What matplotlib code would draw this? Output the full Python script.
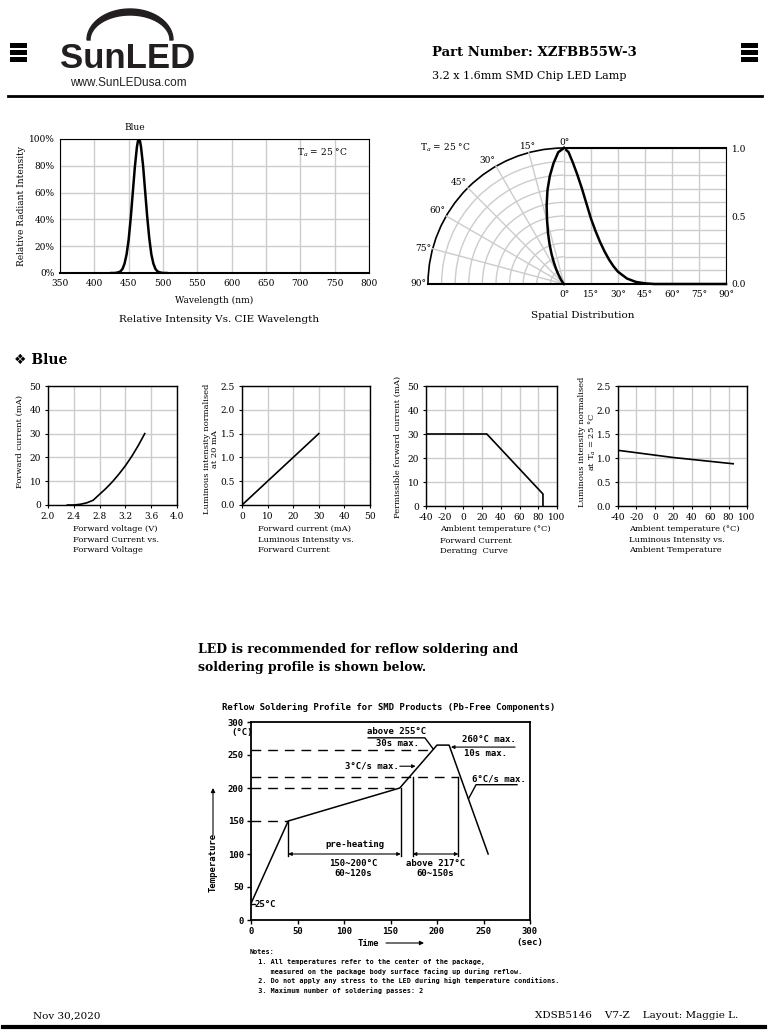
import numpy as np
import matplotlib
matplotlib.use("Agg")
import matplotlib.pyplot as plt
from matplotlib.patches import Polygon, Rectangle, Arc

plt.rcParams['font.family'] = ['DejaVu Serif', 'DejaVu Sans']
plt.rcParams['mathtext.fontset'] = 'dejavuserif'
plt.rcParams['axes.unicode_minus'] = False

# ---- data ----
wavelength = [425, 430, 435, 438, 441, 444, 447, 450, 453, 456, 459, 462, 463.5, 465,
              466.5, 468, 471, 474, 477, 480, 483, 486, 489, 492, 495, 500, 505]
rel_intensity = [0, 0, 0.005, 0.012, 0.03, 0.07, 0.14, 0.25, 0.41, 0.6, 0.79, 0.94, 0.985, 1.0,
                 0.985, 0.94, 0.8, 0.61, 0.42, 0.26, 0.14, 0.07, 0.03, 0.012, 0.005, 0, 0]

beam_angle = [0, 2.5, 5, 7.5, 10, 12.5, 15, 17.5, 20, 22.5, 25, 27.5, 30, 35, 40, 45, 50, 60, 75, 90]
beam_value = [1.0, 0.97, 0.89, 0.80, 0.70, 0.59, 0.48, 0.39, 0.31, 0.24, 0.18, 0.13, 0.09,
              0.04, 0.015, 0.005, 0, 0, 0, 0]

vf_volt = [2.3, 2.4, 2.5, 2.6, 2.7, 2.8, 2.9, 3.0, 3.1, 3.2, 3.3, 3.4, 3.5]
vf_current = [0, 0, 0.3, 0.9, 2.0, 4.5, 7.0, 9.8, 13.0, 16.5, 20.5, 25.0, 30.0]

iv_current = [0, 10, 20, 30]
iv_rel = [0, 0.5, 1.0, 1.5]

derate_temp = [-40, 25, 85, 85]
derate_current = [30, 30, 5, 0]

ta_temp = [-40, -20, 0, 20, 40, 60, 85]
ta_rel = [1.16, 1.11, 1.06, 1.01, 0.97, 0.93, 0.88]

reflow_time = [0, 40, 160, 200, 213, 255]
reflow_temp = [25, 150, 200, 265, 265, 100]

W, H = 768, 1033
fig = plt.figure(figsize=(W / 100, H / 100), dpi=100)


def box(l, t, r, b):
    return fig.add_axes([l / W, 1 - b / H, (r - l) / W, (b - t) / H])


page = box(0, 0, W, H)
page.set_xlim(0, W)
page.set_ylim(H, 0)
page.axis('off')

# ---- header ----
for y in (43, 50, 57):
    page.add_patch(Rectangle((10, y), 17, 4.5, color='black', lw=0))
    page.add_patch(Rectangle((741, y), 17, 4.5, color='black', lw=0))
t = np.linspace(0, np.pi, 60)
outer = np.c_[130 - 43 * np.cos(t), 40 - 31 * np.sin(t)]
inner = np.c_[130 - 40 * np.cos(t), 40 - 25 * np.sin(t)][::-1]
page.add_patch(Polygon(np.r_[outer, inner], color='#231f20'))
page.text(128, 58, 'SunLED', ha='center', va='center', fontsize=25, fontweight='bold',
          family=['Liberation Sans', 'DejaVu Sans'], color='#231f20')
page.text(128, 83, 'www.SunLEDusa.com', ha='center', va='center', fontsize=8.5,
          family=['Liberation Sans', 'DejaVu Sans'], color='#231f20')
page.text(432, 53, 'Part Number: XZFBB55W-3', ha='left', va='center', fontsize=9.5, fontweight='bold')
page.text(432, 76, '3.2 x 1.6mm SMD Chip LED Lamp', ha='left', va='center', fontsize=8)
page.plot([8, 762], [96, 96], color='black', lw=2)

# ---- spectrum ----
grid_c = '#cccccc'
ax = box(60, 139, 369, 273)
ax.plot(wavelength, rel_intensity, color='black', lw=1.8)
ax.set_xlim(350, 800)
ax.set_ylim(0, 1)
ax.set_xticks(range(350, 801, 50))
ax.set_yticks([0, 0.2, 0.4, 0.6, 0.8, 1.0])
ax.set_yticklabels(['0%', '20%', '40%', '60%', '80%', '100%'])
ax.grid(color=grid_c, lw=1)
ax.tick_params(length=0, labelsize=6.5, pad=4)
ax.spines['bottom'].set_linewidth(1.5)
ax.text(0.93, 0.9, 'T$_a$ = 25 °C', transform=ax.transAxes, ha='right', va='center', fontsize=6.5)
page.text(135, 128, 'Blue', ha='center', va='center', fontsize=6.5)
page.text(22, 206, 'Relative Radiant Intensity', rotation=90, ha='center', va='center', fontsize=6.5)
page.text(214, 300, 'Wavelength (nm)', ha='center', va='center', fontsize=6.5)
page.text(219, 319, 'Relative Intensity Vs. CIE Wavelength', ha='center', va='center', fontsize=7.5)

# ---- spatial distribution: rectangular half ----
ar = box(564, 148, 726, 284)
ar.plot(beam_angle, beam_value, color='black', lw=1.8, clip_on=False)
ar.set_xlim(0, 90)
ar.set_ylim(0, 1)
ar.set_xticks(range(0, 91, 15))
ar.set_xticklabels([f'{a}°' for a in range(0, 91, 15)])
ar.set_yticks([0, 0.5, 1.0])
ar.set_yticks(np.arange(0, 1.01, 0.1), minor=True)
ar.yaxis.tick_right()
ar.yaxis.set_major_formatter(matplotlib.ticker.FormatStrFormatter('%.1f'))
ar.grid(which='both', color=grid_c, lw=1)
ar.tick_params(which='both', length=0, labelsize=6.5, pad=4)
ar.spines['left'].set_color(grid_c)
ar.spines['bottom'].set_linewidth(1.5)
ar.spines['top'].set_linewidth(1.5)

# ---- spatial distribution: polar half ----
R = 136.0
ap = box(415, 140, 566, 290)
ap.set_xlim((415 - 564) / R, (566 - 564) / R)
ap.set_ylim((284 - 290) / R, (284 - 140) / R)
ap.axis('off')
for k in range(1, 10):
    ap.add_patch(Arc((0, 0), 0.2 * k, 0.2 * k, theta1=90, theta2=180, color=grid_c, lw=1))
ap.add_patch(Arc((0, 0), 2, 2, theta1=90, theta2=180, color='black', lw=1.2))
for a in (15, 30, 45, 60, 75):
    th = np.radians(a)
    ap.plot([0, -np.sin(th)], [0, np.cos(th)], color=grid_c, lw=1)
ap.plot([-1, 0], [0, 0], color='black', lw=1.5)
th = np.radians(beam_angle)
ap.plot(-np.array(beam_value) * np.sin(th), np.array(beam_value) * np.cos(th),
        color='black', lw=1.8, clip_on=False)
lab_align = {0: ('center', 'bottom'), 15: ('center', 'bottom'), 30: ('right', 'bottom'),
             45: ('right', 'bottom'), 60: ('right', 'bottom'), 75: ('right', 'center'),
             90: ('right', 'center')}
for a, (ha, va) in lab_align.items():
    th = np.radians(a)
    ap.text(-1.01 * np.sin(th), 1.01 * np.cos(th), f'{a}°', ha=ha, va=va, fontsize=6.5, clip_on=False)
page.text(445, 148, 'T$_a$ = 25 °C', ha='center', va='center', fontsize=6.5)
page.text(583, 315, 'Spatial Distribution', ha='center', va='center', fontsize=7.5)

# ---- Blue section ----
page.text(14, 360, '❖ Blue', ha='left', va='center', fontsize=10, fontweight='bold')


def small(ax, xlim, xticks, ylim, yticks):
    ax.set_xlim(xlim)
    ax.set_ylim(ylim)
    ax.set_xticks(xticks)
    ax.set_yticks(yticks)
    ax.grid(color=grid_c, lw=1)
    ax.tick_params(labelsize=6.5, length=2, width=0.8, pad=3)
    for s in ax.spines.values():
        s.set_linewidth(1.0)


a1 = box(48, 386, 177, 505)
a1.plot(vf_volt, vf_current, color='black', lw=1.2)
small(a1, (2.0, 4.0), [2.0, 2.4, 2.8, 3.2, 3.6, 4.0], (0, 50), range(0, 51, 10))
a1.xaxis.set_major_formatter(matplotlib.ticker.FormatStrFormatter('%.1f'))
page.text(55, 401, 'T$_a$ = 25 °C', ha='left', va='center', fontsize=6)
page.text(20, 441, 'Forward current (mA)', rotation=90, ha='center', va='center', fontsize=6)
page.text(73, 529, 'Forward voltage (V)', ha='left', va='center', fontsize=6)
page.text(73, 545, 'Forward Current vs.\nForward Voltage', ha='left', va='center', fontsize=6,
          linespacing=1.2)

a2 = box(242, 386, 370, 505)
a2.plot(iv_current, iv_rel, color='black', lw=1.2)
small(a2, (0, 50), range(0, 51, 10), (0, 2.5), [0, 0.5, 1.0, 1.5, 2.0, 2.5])
a2.yaxis.set_major_formatter(matplotlib.ticker.FormatStrFormatter('%.1f'))
page.text(247, 401, 'T$_a$ = 25 °C', ha='left', va='center', fontsize=6)
page.text(211, 449, 'Luminous intensity normalised\nat 20 mA', rotation=90, ha='center',
          va='center', fontsize=6, linespacing=1.1)
page.text(258, 529, 'Forward current (mA)', ha='left', va='center', fontsize=6)
page.text(258, 545, 'Luminous Intensity vs.\nForward Current', ha='left', va='center', fontsize=6,
          linespacing=1.2)

a3 = box(426, 386, 557, 506)
a3.plot(derate_temp, derate_current, color='black', lw=1.2)
small(a3, (-40, 100), range(-40, 101, 20), (0, 50), range(0, 51, 10))
page.text(398, 447, 'Permissible forward current (mA)', rotation=90, ha='center', va='center',
          fontsize=6)
page.text(440, 529, 'Ambient temperature (°C)', ha='left', va='center', fontsize=6)
page.text(440, 546, 'Forward Current\nDerating  Curve', ha='left', va='center', fontsize=6,
          linespacing=1.2)

a4 = box(618, 386, 747, 506)
a4.plot(ta_temp, ta_rel, color='black', lw=1.2)
small(a4, (-40, 100), range(-40, 101, 20), (0, 2.5), [0, 0.5, 1.0, 1.5, 2.0, 2.5])
a4.yaxis.set_major_formatter(matplotlib.ticker.FormatStrFormatter('%.1f'))
page.text(588, 442, 'Luminous intensity normalised\nat T$_a$ = 25 °C', rotation=90,
          ha='center', va='center', fontsize=6, linespacing=1.1)
page.text(629, 529, 'Ambient temperature (°C)', ha='left', va='center', fontsize=6)
page.text(629, 545, 'Luminous Intensity vs.\nAmbient Temperature', ha='left', va='center',
          fontsize=6, linespacing=1.2)

# ---- reflow ----
page.text(198, 649, 'LED is recommended for reflow soldering and', ha='left', va='center',
          fontsize=8.9, fontweight='bold')
page.text(198, 668, 'soldering profile is shown below.', ha='left', va='center',
          fontsize=8.9, fontweight='bold')

mono = {'family': ['DejaVu Sans Mono'], 'fontweight': 'bold', 'fontsize': 6.5}
page.text(389, 707, 'Reflow Soldering Profile for SMD Products (Pb-Free Components)',
          ha='center', va='center', **mono)

rf = box(251, 722, 530, 920)
rf.set_xlim(0, 300)
rf.set_ylim(0, 300)
rf.set_xticks(range(0, 301, 50))
rf.set_yticks(range(0, 301, 50))
rf.tick_params(length=3, width=1, pad=2)
for lab in rf.get_xticklabels() + rf.get_yticklabels():
    lab.set_family('DejaVu Sans Mono')
    lab.set_fontweight('bold')
    lab.set_fontsize(6.5)
for s in rf.spines.values():
    s.set_linewidth(1.3)
rf.plot(reflow_time, reflow_temp, color='black', lw=1.1)

dash = dict(color='black', lw=1, dashes=(7, 5))
rf.plot([0, reflow_time[1]], [150, 150], **dash)
rf.plot([0, reflow_time[2]], [200, 200], **dash)
rf.plot([0, 223], [217, 217], **dash)
rf.plot([0, 197], [257, 257], **dash)

line = dict(color='black', lw=1)
rf.plot([40, 40], [150, 97], **line)
rf.plot([161, 161], [200, 97], **line)
rf.plot([174, 174], [217, 97], **line)
rf.plot([223, 223], [217, 97], **line)
arr = dict(arrowstyle='<|-|>', color='black', lw=0.8, mutation_scale=5, shrinkA=0, shrinkB=0)
rf.annotate('', xy=(40, 100), xytext=(161, 100), arrowprops=arr)
rf.annotate('', xy=(174, 100), xytext=(223, 100), arrowprops=arr)
rf.text(112, 107, 'pre-heating', ha='center', va='bottom', **mono)
rf.text(110, 85, '150~200°C', ha='center', va='center', **mono)
rf.text(110, 71, '60~120s', ha='center', va='center', **mono)
rf.text(198, 85, 'above 217°C', ha='center', va='center', **mono)
rf.text(198, 71, '60~150s', ha='center', va='center', **mono)

rf.text(157, 286, 'above 255°C', ha='center', va='center', **mono)
rf.text(157, 267, '30s max.', ha='center', va='center', **mono)
rf.plot([126, 187, 196], [276, 276, 259], **line)

rf.text(256, 273, '260°C max.', ha='center', va='center', **mono)
rf.text(252, 252, '10s max.', ha='center', va='center', **mono)
rf.annotate('', xy=(215, 262), xytext=(284, 262),
            arrowprops=dict(arrowstyle='-|>', color='black', lw=0.8, mutation_scale=5,
                            shrinkA=0, shrinkB=0))

rf.text(130, 233, '3°C/s max.', ha='center', va='center', **mono)
rf.annotate('', xy=(177, 233), xytext=(160, 233),
            arrowprops=dict(arrowstyle='-|>', color='black', lw=0.8, mutation_scale=5,
                            shrinkA=0, shrinkB=0))

rf.text(266, 214, '6°C/s max.', ha='center', va='center', **mono)
rf.plot([286, 242, 234], [205, 205, 184], **line)

rf.plot([0, 4], [25, 25], **line)
rf.text(4, 24, '25°C', ha='left', va='center', **mono)

page.text(242, 733, '(°C)', ha='center', va='center', **mono)
page.text(530, 943, '(sec)', ha='center', va='center', **mono)
page.text(213, 862, 'Temperature', rotation=90, ha='center', va='center', **mono)
page.annotate('', xy=(213, 788), xytext=(213, 835),
              arrowprops=dict(arrowstyle='-|>', color='black', lw=0.8, mutation_scale=6,
                              shrinkA=0, shrinkB=0))
page.text(368, 943, 'Time', ha='center', va='center', **mono)
page.annotate('', xy=(424, 943), xytext=(386, 943),
              arrowprops=dict(arrowstyle='-|>', color='black', lw=0.8, mutation_scale=6,
                              shrinkA=0, shrinkB=0))

note = {'family': ['DejaVu Sans Mono'], 'fontweight': 'bold', 'fontsize': 4.85}
notes = ['Notes:',
         '  1. All temperatures refer to the center of the package,',
         '     measured on the package body surface facing up during reflow.',
         '  2. Do not apply any stress to the LED during high temperature conditions.',
         '  3. Maximum number of soldering passes: 2']
for i, s in enumerate(notes):
    page.text(250, 952 + 9.6 * i, s, ha='left', va='center', **note)

# ---- footer ----
page.text(33, 1016, 'Nov 30,2020', ha='left', va='center', fontsize=7.5)
page.text(738, 1016, 'XDSB5146    V7-Z    Layout: Maggie L.', ha='right', va='center',
          fontsize=7.5)
page.plot([3, 765], [1027, 1027], color='black', lw=3)

fig.savefig('out.png', dpi=100)
